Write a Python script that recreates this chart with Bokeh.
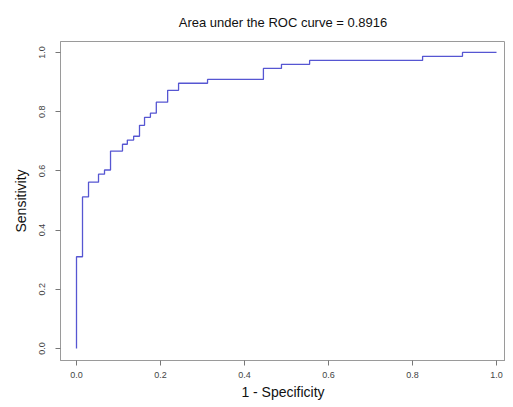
from bokeh.plotting import figure
from bokeh.models import Range1d, FixedTicker
from bokeh.embed import file_html
from bokeh.resources import INLINE

# ROC step corners: (1 - specificity, sensitivity)
fpr = [0.0, 0.0, 0.0143, 0.0286, 0.0524, 0.0667, 0.081, 0.1095, 0.121, 0.136,
       0.150, 0.162, 0.176, 0.190, 0.217, 0.243, 0.312, 0.445, 0.488, 0.555,
       0.824, 0.919, 1.0]
tpr = [0.0, 0.310, 0.512, 0.562, 0.589, 0.603, 0.667, 0.690, 0.704, 0.717,
       0.754, 0.781, 0.795, 0.832, 0.872, 0.896, 0.909, 0.946, 0.960, 0.973,
       0.987, 1.0, 1.0]
ticks = [0.0, 0.2, 0.4, 0.6, 0.8, 1.0]
tick_labels = {0.0: "0.0", 0.2: "0.2", 0.4: "0.4", 0.6: "0.6", 0.8: "0.8", 1.0: "1.0"}
auc = 0.8916

FONT = "Liberation Sans"

p = figure(width=505, height=403,
           x_range=Range1d(-0.0381, 1.0214), y_range=Range1d(-0.0404, 1.037),
           output_backend="svg", toolbar_location=None,
           min_border_left=60, min_border_right=0, min_border_top=40, min_border_bottom=43,
           title="Area under the ROC curve = %.4f" % auc)

p.title.align = "center"
p.title.text_font = FONT
p.title.text_font_size = "13px"
p.title.text_font_style = "normal"
p.title.text_color = "#111111"
p.title.standoff = 24
p.title.offset = 5

p.step(fpr, tpr, mode="after", line_color="#5656d2", line_width=1.3)

p.xgrid.visible = False
p.ygrid.visible = False
p.outline_line_color = "#9a9a9a"
p.outline_line_width = 1
p.background_fill_color = "white"
p.border_fill_color = "white"

for ax in (p.xaxis[0], p.yaxis[0]):
    ax.ticker = FixedTicker(ticks=ticks)
    ax.major_label_overrides = tick_labels
    ax.minor_tick_line_color = None
    ax.major_tick_in = 0
    ax.major_tick_out = 5
    ax.major_tick_line_color = "#777777"
    ax.axis_line_color = "#9a9a9a"
    ax.major_label_text_font = FONT
    ax.major_label_text_font_size = "9px"
    ax.major_label_text_color = "#444444"
    ax.axis_label_text_font = FONT
    ax.axis_label_text_font_size = "14px"
    ax.axis_label_text_font_style = "normal"
    ax.axis_label_text_color = "#111111"

p.xaxis.axis_label = "1 - Specificity"
p.yaxis.axis_label = "Sensitivity"
p.yaxis.major_label_orientation = "vertical"
p.xaxis.major_label_standoff = 6
p.yaxis.major_label_standoff = 10
p.xaxis.axis_label_standoff = 3
p.yaxis.axis_label_standoff = 8

open("out.html", "w").write(file_html(p, INLINE))
